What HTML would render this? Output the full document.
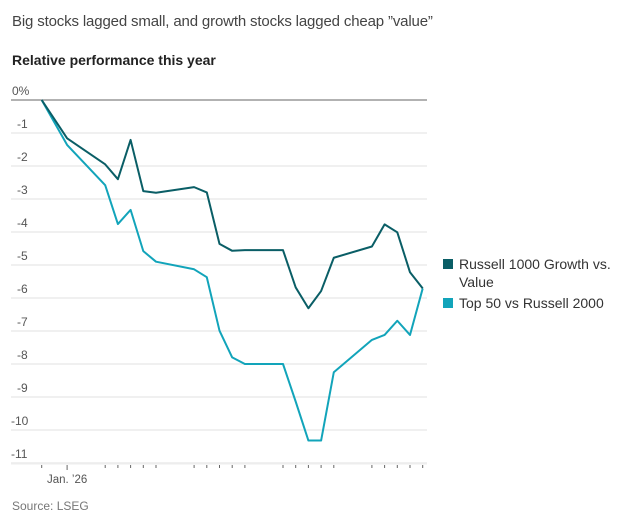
<!DOCTYPE html>
<html><head><meta charset="utf-8"><style>
body{margin:0;width:630px;height:522px;background:#fff;font-family:"Liberation Sans",sans-serif;overflow:hidden;position:relative}
.t{position:absolute;white-space:nowrap}
</style></head><body>
<div class="t" style="left:12px;top:13px;font-size:15px;color:#444;letter-spacing:-0.15px">Big stocks lagged small, and growth stocks lagged cheap ”value”</div>
<div class="t" style="left:12px;top:52px;font-size:14px;font-weight:bold;color:#222">Relative performance this year</div>
<svg id="chart" width="630" height="522" style="position:absolute;left:0;top:0"></svg>
<div class="t" style="left:443px;top:255px;font-size:14px;color:#333;line-height:18px"><span style="display:inline-block;width:10px;height:10px;background:#0a5e66;margin-right:6px"></span>Russell 1000 Growth vs.<br><span style="margin-left:16px">Value</span></div>
<div class="t" style="left:443px;top:294px;font-size:14px;color:#333;line-height:18px"><span style="display:inline-block;width:10px;height:10px;background:#12a4ba;margin-right:6px"></span>Top 50 vs Russell 2000</div>
<div class="t" style="left:12px;top:499px;font-size:12px;color:#777">Source: LSEG</div>
<script>
const dayOffsets=[0,2,5,6,7,8,9,12,13,14,15,16,19,20,21,22,23,26,27,28,29,30];
const growthVsValue=[0,-1.16,-1.95,-2.4,-1.21,-2.76,-2.81,-2.64,-2.8,-4.36,-4.57,-4.55,-4.55,-5.68,-6.31,-5.79,-4.78,-4.44,-3.77,-4.01,-5.22,-5.71];
const top50VsR2000=[0,-1.36,-2.58,-3.76,-3.33,-4.58,-4.9,-5.13,-5.37,-6.99,-7.8,-8.0,-8.0,-9.14,-10.32,-10.32,-8.25,-7.27,-7.12,-6.69,-7.12,-5.71];
const yTicks=[0,-1,-2,-3,-4,-5,-6,-7,-8,-9,-10,-11];
const yTickLabels=["0%","-1","-2","-3","-4","-5","-6","-7","-8","-9","-10","-11"];
const xLabel="Jan. ’26";
const xLabelDay=2;
const NS="http://www.w3.org/2000/svg";
const svg=document.getElementById('chart');
const X=d=>41.7+12.7*d;
const Y=v=>100-33*v;
function mk(t,a){const e=document.createElementNS(NS,t);for(const k in a)e.setAttribute(k,a[k]);svg.appendChild(e);return e;}
yTicks.forEach((v,i)=>{
  if(v!==0){const g=mk('line',{x1:11,x2:427,y1:Y(v),y2:Y(v),stroke:'#ececec','stroke-width':1.5});
  
  }
  const t=mk('text',{x:v<=-10?11:(v===0?12:17),y:Y(v)-5,'font-size':12,fill:'#555','font-family':'Liberation Sans, sans-serif'});
  t.textContent=yTickLabels[i];
  
  
});
const zl=mk('line',{x1:11,x2:427,y1:Y(0),y2:Y(0),stroke:'#999','stroke-width':1.5});


const ax=mk('line',{x1:11,x2:427,y1:Y(-11)+1,y2:Y(-11)+1,stroke:'#eee','stroke-width':1});


dayOffsets.forEach(d=>{
  const big=d===xLabelDay;
  const tk=mk('line',{x1:X(d),x2:X(d),y1:Y(-11)+2,y2:Y(-11)+(big?7:5),stroke:'#666','stroke-width':1});
  
  
});
const xl=mk('text',{x:X(xLabelDay),y:Y(-11)+20,'font-size':11.5,fill:'#555','text-anchor':'middle','font-family':'Liberation Sans, sans-serif'});
xl.textContent=xLabel;


function line(vals,color,name){
  const p=mk('polyline',{points:vals.map((v,i)=>X(dayOffsets[i])+','+Y(v)).join(' '),fill:'none',stroke:color,'stroke-width':2,'stroke-linejoin':'round'});
  
  
}
line(top50VsR2000,'#12a4ba','series-top50-vs-russell2000');
line(growthVsValue,'#0a5e66','series-growth-vs-value');
</script>
</body></html>
